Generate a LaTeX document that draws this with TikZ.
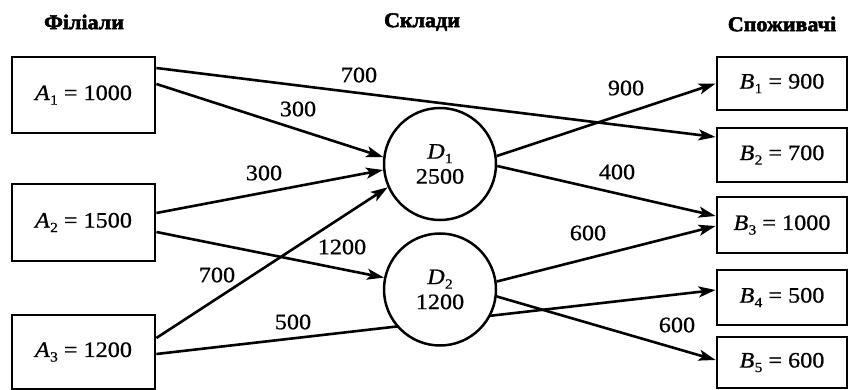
\documentclass[tikz,border=0pt]{standalone}
\usepackage{fontspec}
\setmainfont{Liberation Serif}[FakeStretch=1.1, FakeBold=0.8]
\newfontfamily\headfont{Liberation Serif Bold}[FakeStretch=1.05, FakeBold=2.5]
\usetikzlibrary{arrows.meta,backgrounds}
\newcommand\vname[2]{\textit{#1}\kern0.3pt\raisebox{-0.45ex}{\fontsize{14}{14}\selectfont #2}}
\begin{document}
\begin{tikzpicture}[x=1pt,y=-1pt,
  box/.style={draw, line width=2.8pt, minimum width=143pt, inner sep=0pt, font=\fontsize{22}{26}\selectfont},
  bbox/.style={draw, line width=2.8pt, minimum width=130pt, inner sep=0pt, font=\fontsize{22}{26}\selectfont},
  circ/.style={draw, circle, fill=white, line width=2.5pt, minimum size=112pt, inner sep=0pt, align=center, font=\fontsize{22}{25}\selectfont},
  flow/.style={line width=2.6pt, -{Stealth[length=17pt,width=11pt,inset=4pt]}},
  num/.style={font=\fontsize{22}{26}\selectfont, inner sep=0pt},
  head/.style={font=\headfont\fontsize{21}{25}\selectfont, inner sep=0pt}]
\useasboundingbox (0,0) rectangle (849,390);
% headers
\node[head] (h1) at (84,22) {Філіали};
\node[head] (h2) at (422,22) {Склади};
\node[head] (h3) at (782,24) {Споживачі};
% sources
\node[box, minimum height=76pt] (A1) at (83.5,95) {\vname{A}{1} = 1000};
\node[box, minimum height=77pt] (A2) at (83.5,222.5) {\vname{A}{2} = 1500};
\node[box, minimum height=74pt] (A3) at (83.5,352) {\vname{A}{3} = 1200};
% warehouses
\node[circ] (D1) at (440,164) {\vname{D}{1}\\2500};
\node[circ] (D2) at (440,289.5) {\vname{D}{2}\\1200};
% consumers
\node[bbox, minimum height=53pt] (B1) at (782,83.5) {\vname{B}{1} = 900};
\node[bbox, minimum height=54pt] (B2) at (782,155) {\vname{B}{2} = 700};
\node[bbox, minimum height=56pt] (B3) at (782,225) {\vname{B}{3} = 1000};
\node[bbox, minimum height=55pt] (B4) at (782,297.5) {\vname{B}{4} = 500};
\node[bbox, minimum height=51pt] (B5) at (782,362.5) {\vname{B}{5} = 600};
% flows
\begin{pgfonlayer}{background}
\draw[flow] ([yshift=27pt]A1.east) -- ([yshift=18pt]B2.west);
\draw[flow] ([yshift=11pt]A1.east) -- (D1.173);
\draw[flow] ([yshift=9.5pt]A2.east) -- (D1.186);
\draw[flow] ([yshift=14pt]A3.east) -- (D1.204);
\draw[flow] ([yshift=-9.5pt]A2.east) -- (D2.168);
\draw[flow] ([yshift=-2pt]A3.east) -- ([yshift=7.5pt]B4.west);
\draw[flow] (D1.8) -- (B1.west);
\draw[flow] (D1.-2) -- ([yshift=9pt]B3.west);
\draw[flow] (D2.8) -- ([yshift=-1pt]B3.west);
\draw[flow] (D2.-7) -- ([yshift=2.5pt]B5.west);
\end{pgfonlayer}
% labels
\node[num] (l1) at (359,75) {700};
\node[num] (l2) at (298,109) {300};
\node[num] (l3) at (264,173) {300};
\node[num] (l4) at (217,275) {700};
\node[num] (l5) at (342,247) {1200};
\node[num] (l6) at (293,322) {500};
\node[num] (l7) at (626,88) {900};
\node[num] (l8) at (617,172) {400};
\node[num] (l9) at (588,233) {600};
\node[num] (l10) at (677,325) {600};
\end{tikzpicture}
\end{document}
